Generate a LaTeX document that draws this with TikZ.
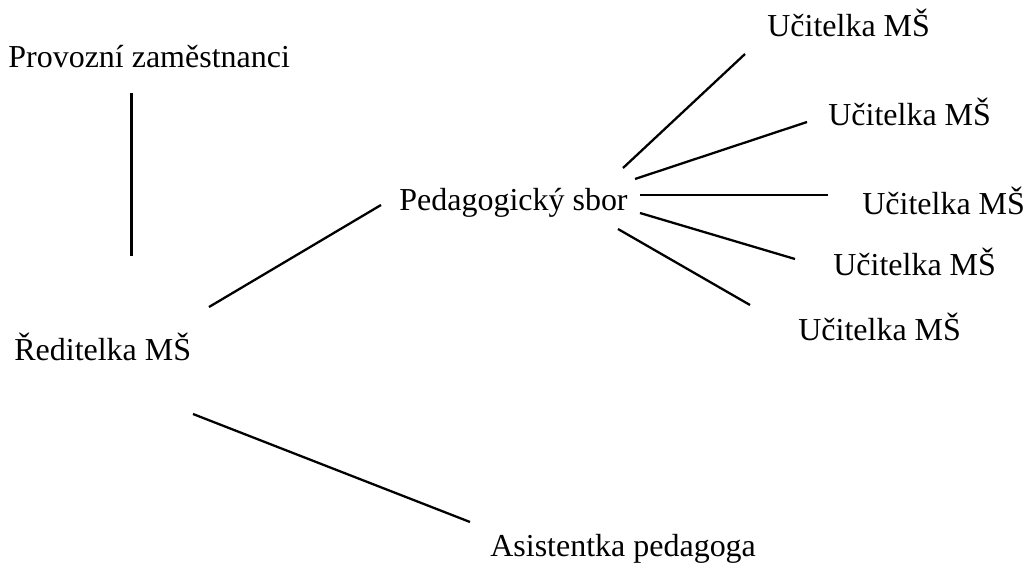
\documentclass[tikz,border=0pt]{standalone}
\usepackage{fontspec}
\setmainfont{Liberation Serif}
\tikzset{
  lbl/.style={anchor=base west, inner sep=0pt, font=\fontsize{18.2}{22}\selectfont},
  ln/.style={line width=1.3pt},
}
\begin{document}
\begin{tikzpicture}
      \useasboundingbox (0,0) rectangle (20.54,11.42);

      \node[lbl] (prov) at (0.16, 10.06) {Provozní zaměstnanci};
      \node[lbl] (red) at (0.28, 4.22) {Ředitelka MŠ};
      \node[lbl] (ped) at (7.98, 7.22) {Pedagogický sbor};
      \node[lbl] (asist) at (9.80, 0.30) {Asistentka pedagoga};
      \node[lbl] (uc1) at (15.34, 10.68) {Učitelka MŠ};
      \node[lbl] (uc2) at (16.56, 8.92) {Učitelka MŠ};
      \node[lbl] (uc3) at (17.24, 7.14) {Učitelka MŠ};
      \node[lbl] (uc4) at (16.66, 5.92) {Učitelka MŠ};
      \node[lbl] (uc5) at (15.96, 4.62) {Učitelka MŠ};

      % line ends
      \coordinate (provB) at (2.63, 9.56);
      \coordinate (redT) at (2.63, 6.30);
      \coordinate (redR) at (4.18, 5.28);
      \coordinate (pedL) at (7.62, 7.32);
      \coordinate (redB) at (3.86, 3.14);
      \coordinate (asistT) at (9.40, 0.98);
      \coordinate (ped1) at (12.46, 8.06);
      \coordinate (ped2) at (12.70, 7.84);
      \coordinate (ped3) at (12.80, 7.52);
      \coordinate (ped4) at (12.80, 7.16);
      \coordinate (ped5) at (12.36, 6.84);
      \coordinate (uc1L) at (14.90, 10.34);
      \coordinate (uc2L) at (16.14, 8.98);
      \coordinate (uc3L) at (16.56, 7.52);
      \coordinate (uc4L) at (15.90, 6.24);
      \coordinate (uc5L) at (15.00, 5.32);

      \draw[ln] (provB) -- (redT);
      \draw[ln] (redR) -- (pedL);
      \draw[ln] (redB) -- (asistT);
      \draw[ln] (ped1) -- (uc1L);
      \draw[ln] (ped2) -- (uc2L);
      \draw[ln] (ped3) -- (uc3L);
      \draw[ln] (ped4) -- (uc4L);
      \draw[ln] (ped5) -- (uc5L);
\end{tikzpicture}
\end{document}
